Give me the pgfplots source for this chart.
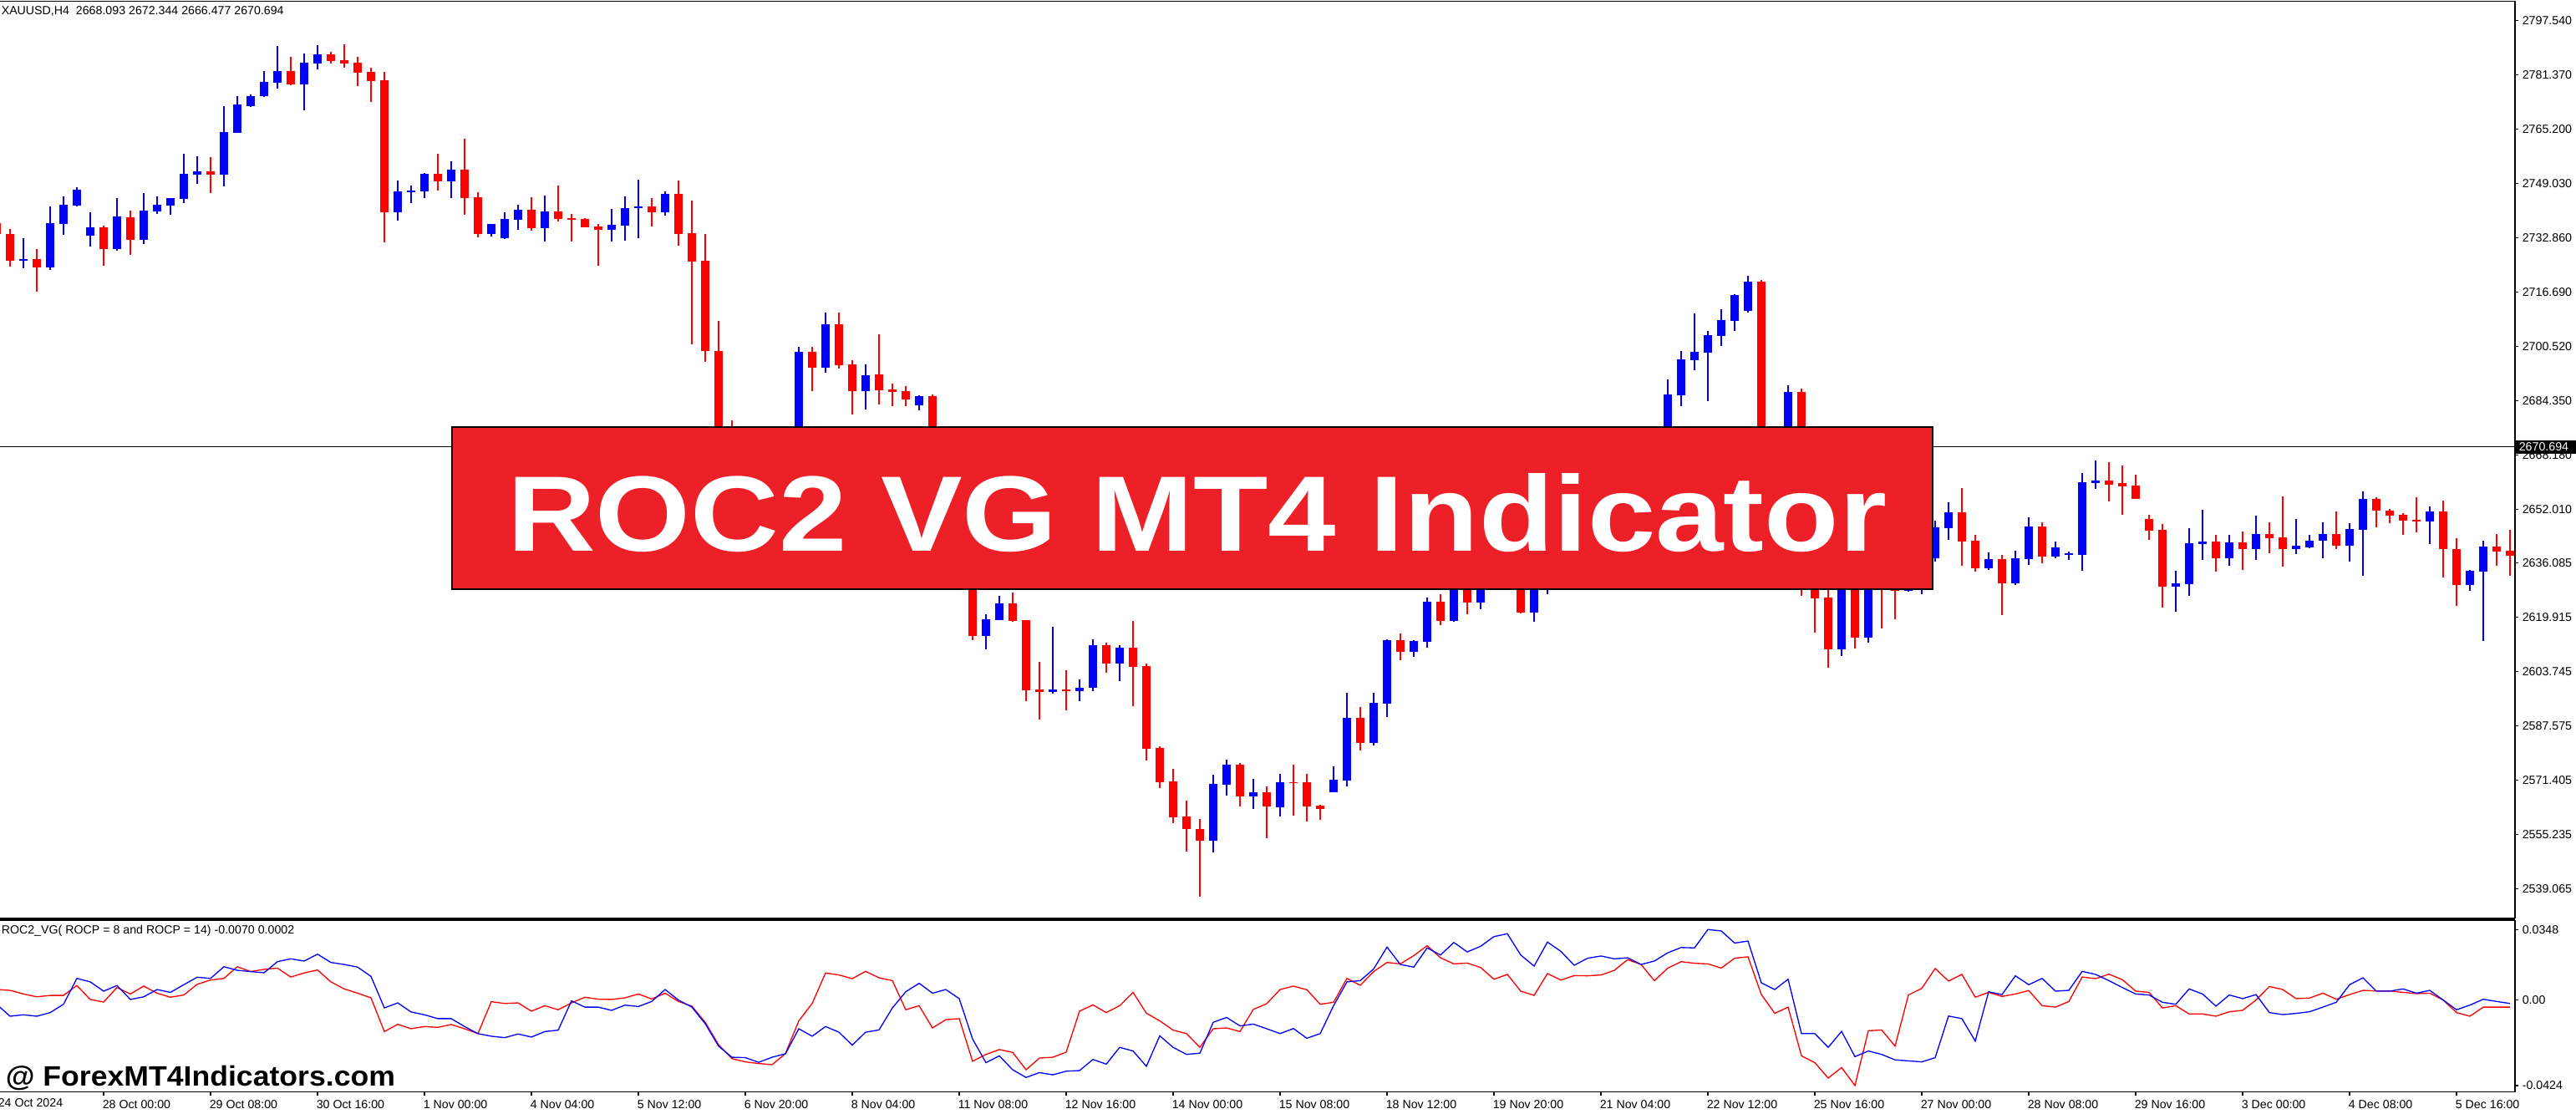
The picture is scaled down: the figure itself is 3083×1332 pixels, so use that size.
\documentclass[border=0pt]{standalone}
\usepackage{fontspec}
\setmainfont{Liberation Sans}
\usepackage{pgfplots}
\usepackage{pgfplotstable}
\pgfplotsset{compat=1.18}

\definecolor{upc}{RGB}{0,0,255}
\definecolor{dnc}{RGB}{255,0,0}
\definecolor{bannerred}{RGB}{237,31,39}
\newcommand\lbl{\fontsize{3.55}{4.2}\selectfont}

% XAUUSD H4 candles, bar index x (0 = 24 Oct 2024 04:00)
\pgfplotstableread{
x o h l c
1 2726.1 2732.8 2723.9 2726.5
3 2724.1 2742.2 2723.2 2737.3
4 2737.1 2745.2 2733.8 2742.7
5 2742.5 2747.9 2742.3 2747.2
6 2733.5 2740.5 2730.3 2736.0
8 2729.6 2744.7 2729.1 2739.2
10 2732.3 2746.2 2731.1 2741.0
11 2740.7 2745.2 2740.0 2742.7
12 2742.5 2744.8 2739.7 2744.7
13 2744.5 2757.9 2743.2 2751.9
14 2751.7 2757.1 2748.9 2752.7
16 2751.7 2772.1 2748.2 2764.4
17 2764.1 2775.1 2764.0 2772.6
18 2772.1 2775.5 2771.8 2775.0
19 2775.0 2782.5 2774.8 2779.3
20 2779.0 2790.0 2777.3 2782.5
22 2778.5 2787.7 2770.8 2785.0
23 2784.8 2790.2 2783.0 2787.5
29 2740.5 2749.9 2738.0 2746.7
30 2746.4 2748.4 2743.2 2746.9
31 2746.7 2752.2 2744.7 2751.9
33 2749.7 2755.7 2744.7 2753.2
36 2734.0 2737.1 2733.3 2737.0
37 2732.8 2740.5 2732.5 2738.5
38 2738.2 2742.7 2735.3 2741.2
40 2735.8 2745.4 2731.8 2740.7
45 2735.3 2741.5 2731.8 2736.7
46 2736.5 2745.2 2732.1 2741.7
47 2741.8 2750.2 2732.8 2742.2
49 2740.5 2746.7 2739.6 2745.9
55 2649.4 2658.1 2641.9 2654.4
57 2650.7 2664.4 2648.2 2661.9
58 2661.9 2671.8 2659.4 2669.3
59 2669.3 2700.4 2666.8 2698.9
61 2694.3 2710.6 2692.8 2707.2
64 2687.3 2695.3 2681.8 2692.0
68 2683.1 2685.9 2681.6 2685.8
73 2614.4 2620.8 2610.5 2619.3
74 2619.2 2626.3 2619.1 2624.0
78 2597.8 2617.1 2597.3 2598.4
80 2598.0 2601.4 2595.0 2598.9
81 2598.9 2613.4 2598.0 2611.6
83 2606.2 2611.6 2600.9 2610.9
90 2553.5 2573.1 2550.0 2570.4
91 2570.2 2577.6 2566.9 2576.1
93 2566.7 2571.9 2562.9 2567.9
95 2563.4 2573.4 2560.7 2570.9
99 2567.9 2575.6 2567.8 2571.6
100 2571.4 2597.5 2569.6 2590.0
102 2582.6 2597.5 2581.8 2594.5
103 2594.3 2613.4 2590.3 2613.2
105 2609.7 2613.2 2608.2 2612.9
106 2612.7 2625.9 2610.9 2624.6
108 2618.9 2637.0 2618.7 2634.5
110 2624.4 2634.5 2622.2 2632.0
111 2632.0 2639.5 2629.5 2637.0
114 2621.4 2639.5 2618.7 2637.0
115 2630.8 2644.5 2626.9 2641.9
116 2641.9 2649.4 2639.5 2646.9
118 2644.5 2654.4 2641.9 2651.9
119 2651.9 2658.1 2649.4 2655.7
121 2653.2 2661.9 2651.4 2659.4
122 2659.4 2664.4 2656.9 2661.9
124 2660.6 2690.7 2658.1 2686.2
125 2686.0 2699.2 2682.8 2696.7
126 2696.4 2710.4 2693.4 2698.9
127 2698.7 2705.2 2684.3 2703.9
128 2703.7 2711.6 2700.7 2708.4
129 2708.1 2716.0 2705.2 2715.8
130 2711.1 2721.6 2710.6 2719.8
132 2664.4 2674.3 2661.9 2671.8
133 2671.8 2689.0 2669.3 2687.0
137 2610.5 2642.0 2608.4 2639.5
139 2613.9 2634.5 2612.4 2632.0
142 2627.9 2639.5 2627.5 2637.0
143 2630.8 2639.5 2626.9 2637.5
144 2637.6 2648.7 2636.6 2646.7
145 2646.4 2654.2 2643.0 2651.2
148 2634.6 2639.3 2634.1 2637.3
150 2630.1 2639.8 2629.6 2637.6
151 2637.3 2649.7 2635.6 2646.9
153 2638.1 2642.5 2637.6 2640.8
154 2638.6 2639.6 2637.1 2639.0
155 2638.6 2662.9 2633.8 2660.1
156 2659.9 2666.6 2658.2 2660.6
162 2629.1 2633.8 2621.6 2630.1
163 2629.8 2646.4 2626.4 2642.0
164 2641.8 2651.9 2637.1 2642.5
166 2637.6 2644.5 2635.3 2642.2
168 2640.3 2650.2 2637.1 2644.7
171 2640.3 2649.2 2638.8 2641.2
172 2640.8 2644.5 2640.5 2642.7
173 2642.8 2648.2 2637.6 2644.7
175 2641.3 2647.9 2636.6 2646.2
176 2646.0 2657.4 2632.3 2655.2
181 2648.5 2652.9 2641.8 2651.4
184 2629.6 2634.0 2627.9 2633.8
185 2633.6 2642.7 2612.9 2641.0
}\bull

\pgfplotstableread{
x o h l c
-1 2737.2 2738.5 2732.8 2734.0
0 2734.0 2735.5 2724.3 2726.1
2 2726.5 2729.6 2716.8 2724.1
7 2736.0 2736.5 2724.6 2729.6
9 2739.0 2741.0 2727.9 2732.3
15 2752.7 2756.9 2746.2 2751.7
21 2782.5 2786.7 2778.3 2778.5
24 2787.5 2788.2 2784.8 2785.5
25 2785.8 2790.5 2783.5 2784.8
26 2785.0 2786.7 2778.0 2782.0
27 2782.3 2783.5 2773.3 2779.5
28 2779.8 2782.3 2731.5 2740.5
32 2751.9 2757.9 2746.9 2749.7
34 2753.2 2762.4 2739.7 2744.7
35 2744.9 2746.4 2733.0 2734.0
39 2741.2 2744.9 2735.0 2735.8
41 2740.7 2748.4 2737.7 2738.5
42 2738.7 2740.0 2731.8 2738.2
43 2738.5 2738.8 2735.9 2736.0
44 2736.2 2737.0 2724.6 2735.3
48 2742.2 2744.7 2736.2 2740.5
50 2745.9 2749.9 2730.6 2734.1
51 2734.3 2743.9 2701.2 2725.9
52 2726.0 2734.0 2696.0 2699.3
53 2699.2 2708.1 2654.4 2656.9
54 2656.4 2678.5 2644.5 2649.4
56 2654.4 2656.9 2644.5 2650.7
60 2698.9 2700.4 2687.3 2694.3
62 2707.1 2710.6 2694.0 2695.0
63 2695.3 2696.5 2680.3 2687.3
65 2692.3 2704.2 2683.3 2687.6
66 2687.8 2689.5 2682.8 2687.1
67 2687.3 2688.8 2682.8 2684.8
69 2685.8 2686.3 2660.6 2664.4
70 2664.4 2665.6 2649.4 2654.4
71 2654.4 2656.9 2639.5 2644.5
72 2644.5 2646.9 2613.2 2614.4
75 2624.1 2627.3 2618.6 2618.9
76 2619.1 2619.2 2595.0 2598.2
77 2598.4 2606.7 2589.5 2597.8
79 2598.4 2604.2 2592.3 2598.0
82 2611.6 2612.4 2603.4 2606.2
84 2610.9 2618.8 2593.5 2605.2
85 2605.4 2606.1 2577.4 2580.9
86 2581.0 2581.5 2569.2 2570.9
87 2571.1 2574.9 2558.7 2560.4
88 2560.7 2565.4 2550.3 2556.9
89 2557.0 2559.9 2536.7 2553.5
92 2576.1 2576.6 2563.7 2566.7
94 2567.9 2569.6 2554.2 2563.7
96 2570.9 2576.1 2560.9 2570.6
97 2570.9 2573.4 2559.2 2563.7
98 2563.9 2564.0 2559.7 2562.9
101 2590.0 2593.3 2580.3 2582.6
104 2613.2 2615.2 2607.2 2609.7
107 2624.6 2626.9 2617.7 2618.9
109 2632.0 2634.5 2620.9 2624.4
112 2637.0 2639.5 2628.5 2629.5
113 2629.5 2632.0 2621.2 2621.4
117 2646.9 2650.7 2640.7 2644.5
120 2655.7 2659.4 2650.7 2653.2
123 2661.9 2665.6 2658.1 2660.6
131 2719.8 2720.3 2660.6 2664.4
134 2687.0 2688.0 2626.3 2644.5
135 2644.5 2646.9 2615.4 2625.6
136 2625.8 2629.5 2604.9 2610.5
138 2639.5 2642.0 2610.6 2613.9
140 2632.0 2637.0 2616.7 2629.5
141 2632.0 2634.5 2619.4 2627.9
146 2651.2 2658.4 2635.3 2642.5
147 2642.8 2644.5 2633.6 2634.6
149 2637.3 2638.6 2620.6 2630.1
152 2646.9 2648.2 2636.1 2638.1
157 2660.6 2666.1 2654.5 2659.5
158 2659.9 2665.1 2650.5 2658.9
159 2659.1 2662.4 2655.1 2655.2
160 2649.2 2650.4 2643.0 2645.8
161 2645.9 2647.7 2622.9 2629.1
165 2642.5 2644.5 2633.6 2637.6
167 2642.2 2645.5 2634.1 2640.3
169 2644.7 2648.2 2639.1 2643.5
170 2643.7 2655.9 2635.1 2640.3
174 2644.7 2651.4 2640.3 2641.3
177 2655.2 2655.6 2646.8 2651.7
178 2651.7 2652.2 2648.0 2650.2
179 2650.4 2650.9 2644.5 2648.8
180 2648.9 2655.6 2645.3 2648.5
182 2651.4 2654.6 2631.8 2640.3
183 2640.3 2643.5 2623.4 2629.6
186 2641.0 2644.7 2635.3 2639.5
187 2639.7 2645.9 2632.3 2638.3
}\bear

% ROC2_VG: r = red line, b = blue line
\pgfplotstableread{
x r b
-1 0.0051 -0.0022
0 0.0047 -0.0081
1 0.0029 -0.0074
2 0.0015 -0.0081
3 0.0022 -0.0063
4 0.0022 -0.0022
5 0.0071 0.0106
6 0.0002 0.0089
7 -0.0011 0.0043
8 0.0061 0.0071
9 0.0029 0.0002
10 0.0068 0.0015
11 0.0033 0.0051
12 0.0013 0.0037
13 0.0024 0.0075
14 0.0077 0.0112
15 0.0098 0.0106
16 0.0106 0.0164
17 0.0164 0.0146
18 0.0140 0.0140
19 0.0151 0.0134
20 0.0157 0.0189
21 0.0113 0.0203
22 0.0133 0.0192
23 0.0148 0.0226
24 0.0089 0.0185
25 0.0054 0.0175
26 0.0033 0.0162
27 0.0010 0.0116
28 -0.0157 -0.0040
29 -0.0121 -0.0015
30 -0.0143 -0.0060
31 -0.0132 -0.0074
32 -0.0136 -0.0093
33 -0.0122 -0.0093
34 -0.0143 -0.0132
35 -0.0167 -0.0167
36 -0.0009 -0.0180
37 -0.0018 -0.0187
38 -0.0015 -0.0169
39 -0.0056 -0.0184
40 -0.0029 -0.0157
41 -0.0049 -0.0150
42 -0.0015 -0.0005
43 0.0013 -0.0036
44 0.0003 -0.0036
45 0.0002 -0.0052
46 0.0010 -0.0026
47 0.0029 -0.0033
48 0.0004 -0.0008
49 0.0033 0.0051
50 -0.0008 -0.0001
51 -0.0031 -0.0036
52 -0.0111 -0.0118
53 -0.0222 -0.0229
54 -0.0291 -0.0284
55 -0.0307 -0.0286
56 -0.0315 -0.0309
57 -0.0321 -0.0284
58 -0.0266 -0.0267
59 -0.0104 -0.0143
60 -0.0018 -0.0180
61 0.0133 -0.0132
62 0.0123 -0.0160
63 0.0105 -0.0224
64 0.0141 -0.0160
65 0.0109 -0.0149
66 0.0095 -0.0040
67 -0.0049 0.0040
68 -0.0029 0.0082
69 -0.0139 0.0033
70 -0.0098 0.0051
71 -0.0093 0.0006
72 -0.0304 -0.0194
73 -0.0270 -0.0311
74 -0.0246 -0.0277
75 -0.0260 -0.0346
76 -0.0346 -0.0384
77 -0.0288 -0.0360
78 -0.0284 -0.0371
79 -0.0259 -0.0353
80 -0.0056 -0.0350
81 -0.0025 -0.0295
82 -0.0063 -0.0318
83 -0.0029 -0.0235
84 0.0037 -0.0253
85 -0.0066 -0.0329
86 -0.0104 -0.0178
87 -0.0150 -0.0235
88 -0.0167 -0.0270
89 -0.0235 -0.0264
90 -0.0143 -0.0111
91 -0.0139 -0.0087
92 -0.0157 -0.0129
93 -0.0047 -0.0120
94 -0.0019 -0.0143
95 0.0051 -0.0167
96 0.0068 -0.0142
97 0.0050 -0.0190
98 -0.0022 -0.0167
99 -0.0012 -0.0029
100 0.0106 0.0089
101 0.0072 0.0095
102 0.0140 0.0153
103 0.0185 0.0261
104 0.0178 0.0175
105 0.0219 0.0162
106 0.0268 0.0257
107 0.0208 0.0222
108 0.0178 0.0284
109 0.0182 0.0237
110 0.0160 0.0265
111 0.0102 0.0313
112 0.0126 0.0327
113 0.0043 0.0222
114 0.0022 0.0167
115 0.0130 0.0286
116 0.0098 0.0240
117 0.0120 0.0171
118 0.0119 0.0206
119 0.0123 0.0217
120 0.0146 0.0203
121 0.0199 0.0208
122 0.0175 0.0175
123 0.0095 0.0192
124 0.0157 0.0233
125 0.0189 0.0259
126 0.0181 0.0257
127 0.0178 0.0348
128 0.0157 0.0341
129 0.0206 0.0281
130 0.0213 0.0291
131 0.0026 0.0084
132 -0.0067 0.0051
133 -0.0036 0.0102
134 -0.0277 -0.0167
135 -0.0311 -0.0167
136 -0.0387 -0.0235
137 -0.0335 -0.0156
138 -0.0424 -0.0281
139 -0.0153 -0.0253
140 -0.0149 -0.0270
141 -0.0229 -0.0297
142 0.0024 -0.0302
143 0.0057 -0.0307
144 0.0155 -0.0286
145 0.0093 -0.0080
146 0.0126 -0.0093
147 0.0013 -0.0204
148 0.0037 0.0040
149 0.0017 0.0026
150 0.0029 0.0119
151 0.0046 0.0075
152 -0.0029 0.0106
153 -0.0036 0.0043
154 -0.0008 0.0047
155 0.0113 0.0141
156 0.0105 0.0126
157 0.0127 0.0095
158 0.0100 0.0061
159 0.0043 0.0029
160 0.0037 0.0024
161 -0.0040 -0.0012
162 -0.0029 -0.0022
163 -0.0070 0.0054
164 -0.0070 0.0029
165 -0.0081 -0.0031
166 -0.0059 0.0024
167 -0.0052 0.0006
168 -0.0001 0.0026
169 0.0066 -0.0063
170 0.0051 -0.0073
171 0.0006 -0.0067
172 0.0009 -0.0059
173 0.0033 -0.0036
174 0.0003 -0.0012
175 0.0026 0.0075
176 0.0047 0.0109
177 0.0044 0.0043
178 0.0044 0.0043
179 0.0037 0.0054
180 0.0031 0.0033
181 0.0033 0.0047
182 -0.0001 -0.0001
183 -0.0063 -0.0049
184 -0.0081 -0.0026
185 -0.0036 0.0003
186 -0.0036 -0.0008
187 -0.0036 -0.0018
}\roc

\pgfplotsset{
  mt4/.style={
    scale only axis, width=752.5pt,
    xmin=-0.75, xmax=187.375,
    axis line style={-, black, line width=0.3pt},
    tick align=outside, major tick length=1pt,
    tick style={black, line width=0.3pt},
    yticklabel style={font=\lbl, anchor=west, inner sep=0pt, xshift=1pt},
  },
  wick/.style={draw=none, mark=none, forget plot,
    error bars/.cd, y dir=plus, y explicit, error mark=none,
    error bar style={draw=#1, line width=0.33pt}},
  body/.style={draw=none, mark=none, forget plot,
    error bars/.cd, y dir=plus, y explicit, error mark=none,
    error bar style={draw=#1, line width=2.7pt}},
}

\begin{document}
\begin{tikzpicture}[x=0.25pt,y=0.25pt]
\useasboundingbox (0,0) rectangle (3083,1332);
\fill[white] (0,0) rectangle (3083,1332);

% price chart
\begin{axis}[mt4,
  at={(0pt,58.25pt)}, anchor=south west, height=274.375pt,
  ymin=2530.28, ymax=2803.29,
  axis x line*=top, axis y line*=right, xtick=\empty,
  ytick={2539.065,2555.235,2571.405,2587.575,2603.745,2619.915,2636.085,2652.010,2668.180,2684.350,2700.520,2716.690,2732.860,2749.030,2765.200,2781.370,2797.540},
  yticklabels={2539.065,2555.235,2571.405,2587.575,2603.745,2619.915,2636.085,2652.010,2668.180,2684.350,2700.520,2716.690,2732.860,2749.030,2765.200,2781.370,2797.540},
]
\addplot[wick=upc] table[x=x, y=l, y error plus expr={\thisrow{h}-\thisrow{l}}] {\bull};
\addplot[wick=dnc] table[x=x, y=l, y error plus expr={\thisrow{h}-\thisrow{l}}] {\bear};
\addplot[body=upc] table[x=x, y=o, y error plus expr={\thisrow{c}-\thisrow{o}}] {\bull};
\addplot[body=dnc] table[x=x, y=c, y error plus expr={\thisrow{o}-\thisrow{c}}] {\bear};
\end{axis}

% indicator window
\begin{axis}[mt4,
  at={(0pt,6.375pt)}, anchor=south west, height=51.375pt,
  ymin=-0.04553, ymax=0.03945, scaled y ticks=false,
  axis x line*=bottom, axis y line*=right,
  ytick={-0.0424,0,0.0348}, yticklabels={-0.0424,0.00,0.0348},
  xtick={7,15,...,183},
  xticklabels={28 Oct 00:00,29 Oct 08:00,30 Oct 16:00,1 Nov 00:00,4 Nov 04:00,5 Nov 12:00,6 Nov 20:00,8 Nov 04:00,11 Nov 08:00,12 Nov 16:00,14 Nov 00:00,15 Nov 08:00,18 Nov 12:00,19 Nov 20:00,21 Nov 04:00,22 Nov 12:00,25 Nov 16:00,27 Nov 00:00,28 Nov 08:00,29 Nov 16:00,3 Dec 00:00,4 Dec 08:00,5 Dec 16:00},
  xticklabel style={font=\lbl, anchor=north west, inner sep=0pt, xshift=-0.5pt, yshift=-1.3pt},
]
\addplot[dnc, line width=0.33pt] table[x=x, y=r] {\roc};
\addplot[upc, line width=0.33pt] table[x=x, y=b] {\roc};
\end{axis}

% first time label (its bar lies left of the window edge)
\node[anchor=north west, inner sep=0pt, font=\lbl] at (-3,18) {24 Oct 2024};

% window separators and bid line
\draw[black, line width=0.3pt] (0,233) -- (3010,233);
\draw[black, line width=0.3pt] (0,231) -- (3010,231);
\draw[black, line width=0.3pt] (0,797.7) -- (3010,797.7);
\fill[black] (3011,789.5) rectangle (3083,805.5);
\node[anchor=west, inner sep=0pt, font=\lbl, text=white] at (3014,797.5) {2670.694};

% texts
\node[anchor=west, inner sep=0pt, font=\lbl] at (1,1318.7) {XAUUSD,H4\ \ 2668.093 2672.344 2666.477 2670.694};
\node[anchor=west, inner sep=0pt, font=\lbl] at (1,218) {ROC2\_VG( ROCP = 8 and ROCP = 14) -0.0070 0.0002};
\node[anchor=base west, inner sep=0pt, font=\fontsize{8.4}{10}\selectfont\bfseries, xscale=1.06] at (6,33) {@ ForexMT4Indicators.com};

% banner
\filldraw[fill=bannerred, draw=black, line width=0.45pt] (541,627) rectangle (2313,821);
\node[anchor=base, inner sep=0pt, text=white, font=\fontsize{32.1}{36}\selectfont\bfseries, xscale=1.14] at (1432.6,673) {ROC2 VG MT4 Indicator};
\end{tikzpicture}
\end{document}
